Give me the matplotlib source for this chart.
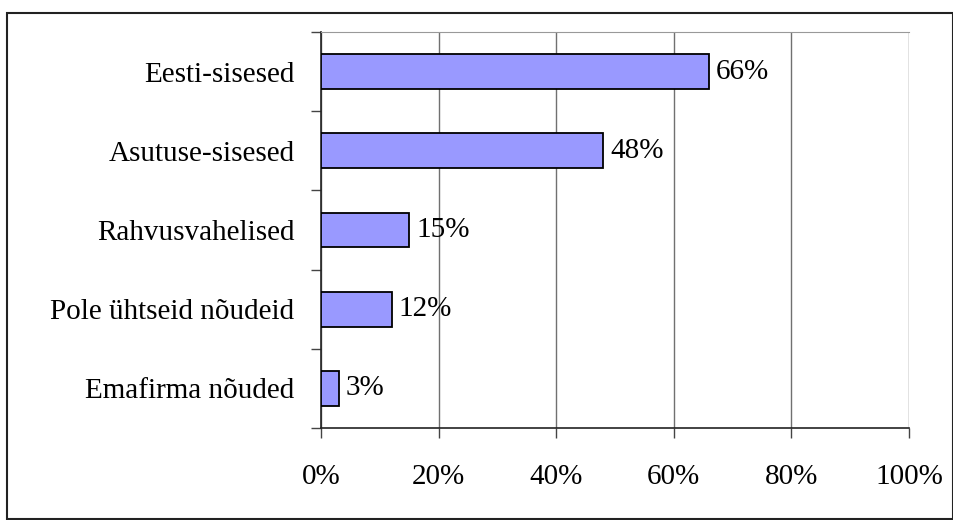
import matplotlib.pyplot as plt
from matplotlib.patches import Rectangle
from matplotlib.ticker import FixedLocator

categories = ['Eesti-sisesed', 'Asutuse-sisesed', 'Rahvusvahelised',
              'Pole ühtseid nõudeid', 'Emafirma nõuded']
values = [66, 48, 15, 12, 3]
xticks = [0, 20, 40, 60, 80, 100]
xtick_labels = ['0%', '20%', '40%', '60%', '80%', '100%']

plt.rcParams['font.family'] = ['Liberation Serif', 'DejaVu Serif']
FS = 21

fig = plt.figure(figsize=(9.54, 5.2), dpi=100)
ax = fig.add_axes([321 / 954, 1 - 428 / 520, (909 - 321) / 954, (428 - 32) / 520])

# border round the whole chart
fig.patches.append(Rectangle((7 / 954, 1 / 520), 946 / 954, 506 / 520,
                             transform=fig.transFigure, fill=False,
                             edgecolor='#222222', linewidth=1.5))

n = len(categories)
pos = list(range(n))[::-1]
ax.barh(pos, values, height=0.44, color='#9999ff', edgecolor='black', linewidth=1.3, zorder=3)
for p, v in zip(pos, values):
    ax.text(v + 1.2, p, f'{v}%', va='center', ha='left', fontsize=FS, zorder=4)

ax.set_xlim(0, 100)
ax.set_ylim(-0.5, n - 0.5)
ax.set_xticks(xticks)
ax.set_xticklabels(xtick_labels, fontsize=FS)
ax.set_yticks(pos)
ax.set_yticklabels(categories, fontsize=FS)
ax.tick_params(axis='y', length=0, pad=19)
ax.tick_params(axis='x', length=7, width=1, pad=19, color='#444444')
ax.yaxis.set_minor_locator(FixedLocator([i - 0.5 for i in range(n + 1)]))
ax.tick_params(axis='y', which='minor', length=7, width=1, color='#444444')
ax.grid(axis='x', color='#707070', linewidth=1, zorder=0)

ax.spines['right'].set_visible(False)
ax.spines['top'].set_color('#999999')
ax.spines['left'].set_color('#222222')
ax.spines['bottom'].set_color('#222222')
ax.spines['left'].set_linewidth(1.2)
ax.spines['bottom'].set_linewidth(1.2)

fig.savefig('out.png', dpi=100)
